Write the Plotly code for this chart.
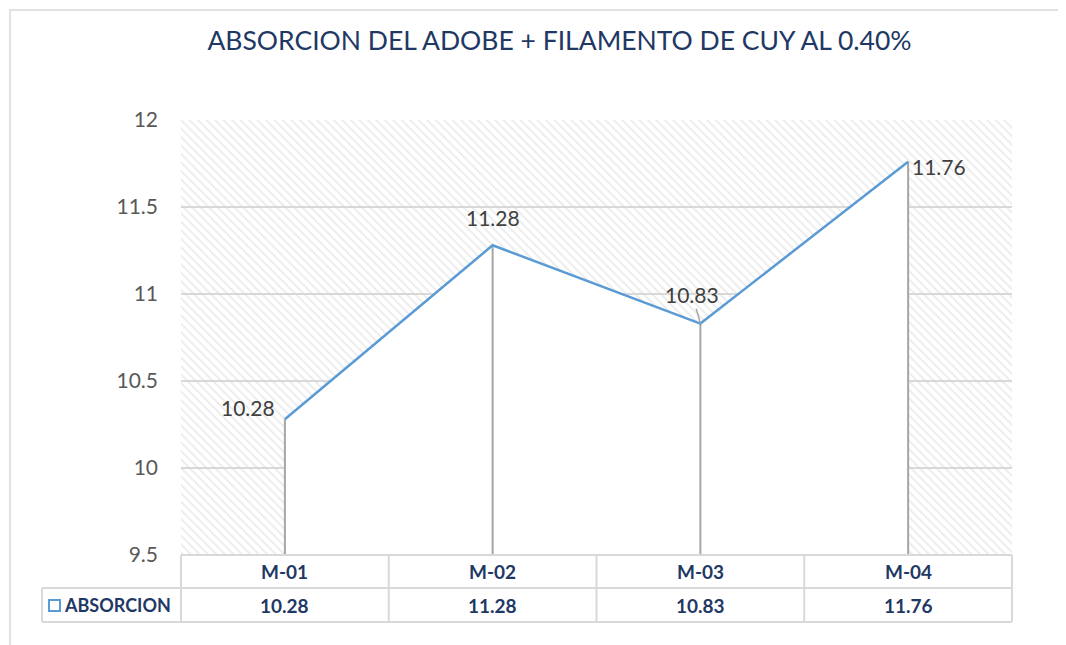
import plotly.graph_objects as go

categories = ["M-01", "M-02", "M-03", "M-04"]
absorcion = [10.28, 11.28, 10.83, 11.76]
series_name = "ABSORCION"
title_text = "ABSORCION DEL ADOBE + FILAMENTO DE CUY AL 0.40%"
y_min, y_max = 9.5, 12.0
y_ticks = [9.5, 10, 10.5, 11, 11.5, 12]
y_tick_labels = ["9.5", "10", "10.5", "11", "11.5", "12"]

# the page body has an 8px margin; work in window pixels and convert
OFF = 8
WIN_W, WIN_H = 1066, 645
W, H = WIN_W - OFF, WIN_H - OFF
PL, PR, PT, PB = 181, 1012, 120, 555   # plot area in window pixels
ML, MR, MT, MB = PL - OFF, OFF + W - PR, PT - OFF, OFF + H - PB
PW, PH = PR - PL, PB - PT

def xp(px):
    return (px - PL) / PW

def yp(py):
    return (PB - py) / PH

NAVY = "#1f3864"
GRID = "#d9d9d9"
BLUE = "#5b9bd5"
FONT = "Lato, Carlito, Calibri, sans-serif"

fig = go.Figure()

# hatched plot-area background (spans the whole axis range)
fig.add_trace(go.Bar(
    x=categories, y=[y_max - y_min] * len(categories), base=[y_min] * len(categories),
    width=1, marker=dict(color="rgba(0,0,0,0)", line=dict(width=0),
                         pattern=dict(shape="\\", fgcolor="#d6d6d6", bgcolor="rgba(0,0,0,0)",
                                      size=6, solidity=0.3, fillmode="overlay")),
    hoverinfo="skip", showlegend=False))

# area with drop lines
fig.add_trace(go.Scatter(
    x=categories, y=absorcion, mode="lines", fill="tozeroy", fillcolor="white",
    line=dict(color=BLUE, width=2.5), name=series_name, showlegend=False,
    error_y=dict(type="data", symmetric=False, array=[0] * len(absorcion),
                 arrayminus=[v - y_min for v in absorcion], color="#a6a6a6",
                 thickness=2, width=0)))

# data labels
LBL = dict(family=FONT, size=21, color="#404040")
label_offsets = [(-37, -12, False), (0, -28, False), (-8, -29, True), (31, 5, False)]
for cat, v, (ax, ay, arrow) in zip(categories, absorcion, label_offsets):
    if arrow:
        fig.add_annotation(x=cat, y=v, text=f"{v:.2f}", showarrow=True, arrowhead=0,
                           arrowcolor="#a6a6a6", arrowwidth=1.5, ax=ax, ay=ay,
                           standoff=0, font=LBL)
    else:
        fig.add_annotation(x=cat, y=v, text=f"{v:.2f}", showarrow=False,
                           xshift=ax, yshift=-ay, font=LBL)

# data table below the plot
shapes = []
y_row1 = yp(588)
y_row2 = yp(622)
x_leg = xp(42)
line_style = dict(color=GRID, width=2)
shapes.append(dict(type="line", xref="paper", yref="paper", x0=0, x1=1, y0=y_row1, y1=y_row1, line=line_style))
shapes.append(dict(type="line", xref="paper", yref="paper", x0=x_leg, x1=0, y0=y_row1, y1=y_row1, line=line_style))
shapes.append(dict(type="line", xref="paper", yref="paper", x0=x_leg, x1=1, y0=y_row2, y1=y_row2, line=line_style))
shapes.append(dict(type="line", xref="paper", yref="paper", x0=0, x1=1, y0=0, y1=0, line=line_style))
for i in range(len(categories) + 1):
    xv = i / len(categories)
    shapes.append(dict(type="line", xref="paper", yref="paper", x0=xv, x1=xv, y0=0, y1=y_row2, line=line_style))
shapes.append(dict(type="line", xref="paper", yref="paper", x0=x_leg, x1=x_leg, y0=y_row1, y1=y_row2, line=line_style))
# legend key
shapes.append(dict(type="rect", xref="paper", yref="paper",
                   x0=xp(49), x1=xp(60), y0=yp(611), y1=yp(600),
                   line=dict(color=BLUE, width=2), fillcolor="white"))
# chart-area border
shapes.append(dict(type="rect", xref="paper", yref="paper",
                   x0=xp(10), x1=xp(1090), y0=yp(680), y1=yp(10),
                   line=dict(color="#d9d9d9", width=1.5), fillcolor="rgba(0,0,0,0)", layer="below"))

TBL = dict(family=FONT, size=19, color=NAVY)
for i, (cat, v) in enumerate(zip(categories, absorcion)):
    xc = (i + 0.5) / len(categories)
    fig.add_annotation(xref="paper", yref="paper", x=xc, y=(0 + y_row1) / 2, text=f"<b>{cat}</b>",
                       xanchor="center", yanchor="middle", showarrow=False, font=TBL)
    fig.add_annotation(xref="paper", yref="paper", x=xc, y=(y_row1 + y_row2) / 2, text=f"<b>{v:.2f}</b>",
                       xanchor="center", yanchor="middle", showarrow=False, font=TBL)
fig.add_annotation(xref="paper", yref="paper", x=xp(62), y=(y_row1 + y_row2) / 2,
                   xanchor="left", yanchor="middle", text=f"<b>{series_name}</b>", showarrow=False,
                   font=dict(family=FONT, size=18, color=NAVY))

fig.update_layout(
    width=W, height=H, margin=dict(l=ML, r=MR, t=MT, b=MB),
    paper_bgcolor="white", plot_bgcolor="white",
    title=dict(text=title_text, x=(559.5 - OFF) / W, xanchor="center", y=1 - (41 - OFF) / H, yanchor="middle",
               font=dict(family=FONT, size=26.5, color=NAVY)),
    xaxis=dict(type="category", range=[-0.5, len(categories) - 0.5], showticklabels=False,
               showgrid=False, zeroline=False, showline=False, ticks=""),
    yaxis=dict(range=[y_min, y_max], tickvals=y_ticks, ticktext=y_tick_labels,
               showgrid=True, gridcolor=GRID, gridwidth=1.5, zeroline=False, showline=False,
               ticks="", ticklabelstandoff=22,
               tickfont=dict(family=FONT, size=21, color="#595959")),
    bargap=0, shapes=shapes, showlegend=False,
)

fig.write_html("out.html")
